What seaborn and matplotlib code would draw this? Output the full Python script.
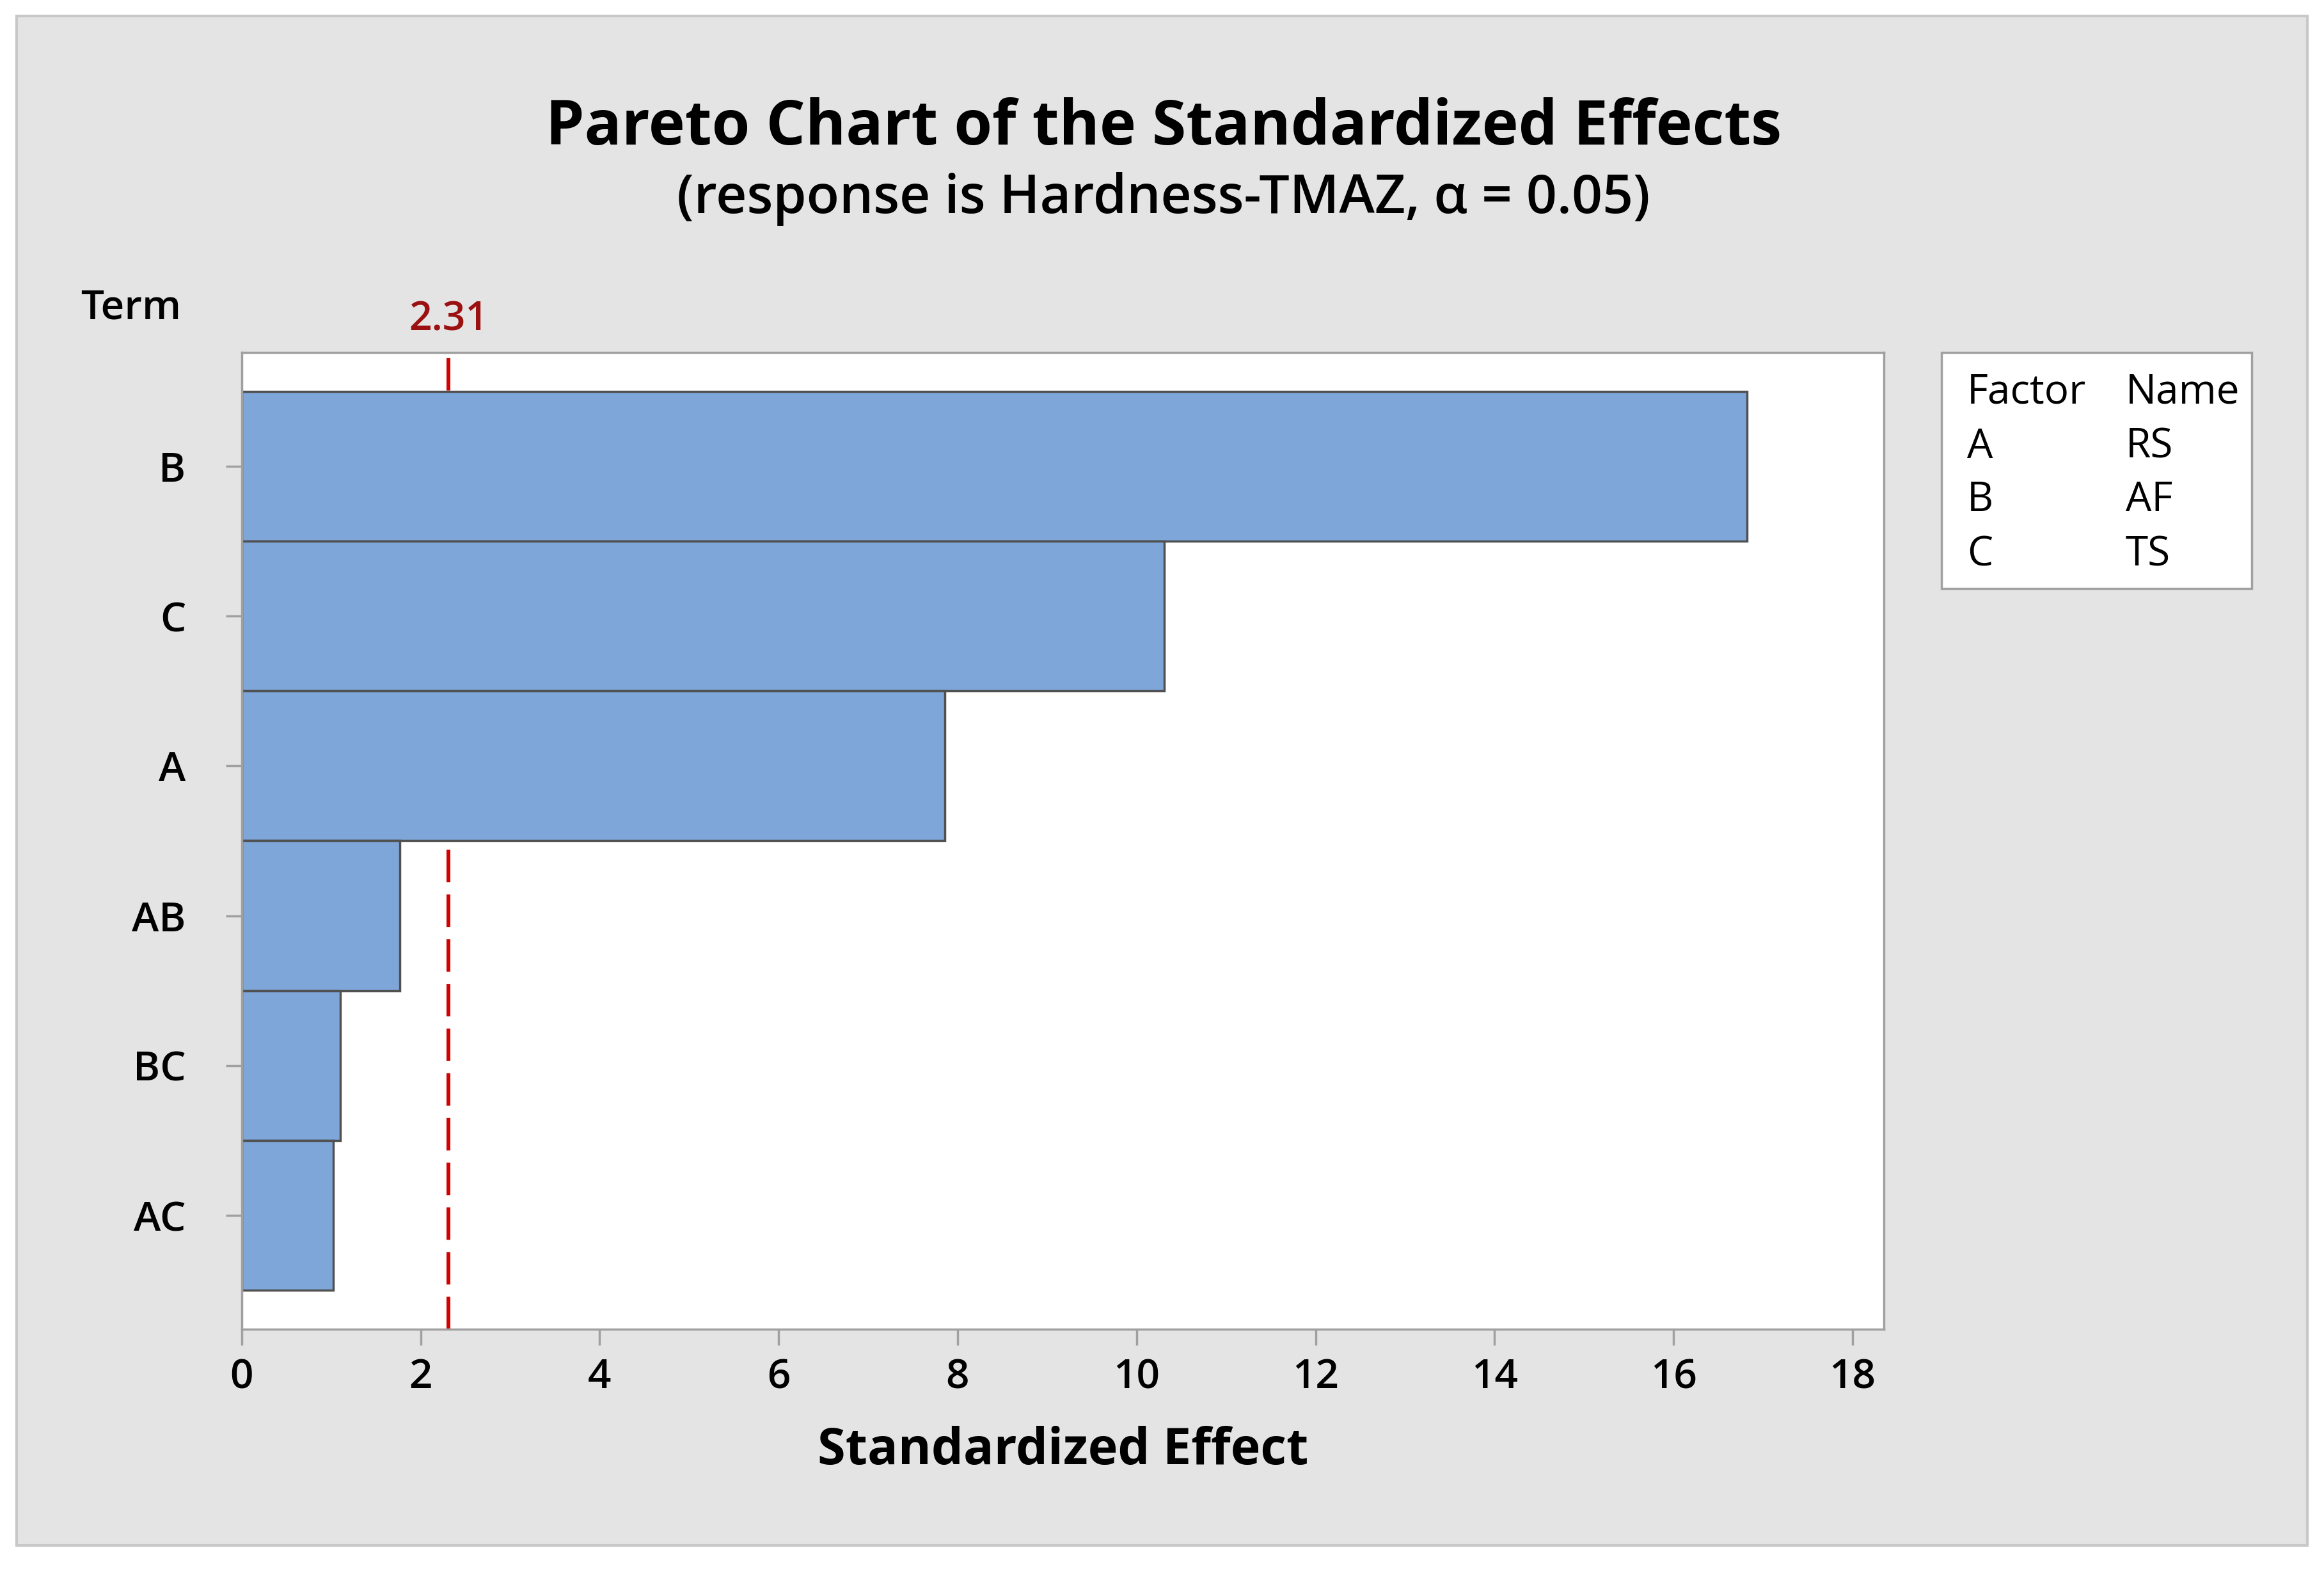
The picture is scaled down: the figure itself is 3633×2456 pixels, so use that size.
import matplotlib
matplotlib.use("Agg")
import matplotlib.pyplot as plt
import seaborn as sns
from matplotlib.patches import Rectangle
from matplotlib.transforms import blended_transform_factory

# --- Veri ---
terms = ["B", "C", "A", "AB", "BC", "AC"]
effects = [16.82, 10.31, 7.86, 1.77, 1.10, 1.02]
critical = 2.31
factors = ["A", "B", "C"]
names = ["RS", "AF", "TS"]
x_ticks = [0, 2, 4, 6, 8, 10, 12, 14, 16, 18]

sns.set_style("white")
plt.rcParams["font.family"] = ["Open Sans", "DejaVu Sans"]
plt.rcParams["text.color"] = "black"

fig = plt.figure(figsize=(36.33, 24.56), dpi=100)
fig.patch.set_facecolor("white")

# gri panel
fig.patches.append(Rectangle((0.0072, 0.0163), 0.9857, 0.9735, transform=fig.transFigure,
                             facecolor="#E4E4E4", edgecolor="#C8C8C8", linewidth=3, zorder=-10))

ax = fig.add_axes([0.1040, 0.1539, 0.7066, 0.6218])
ax.set_facecolor("white")

sns.barplot(x=effects, y=terms, orient="h", width=1.0, color="#7EA6D8",
            edgecolor="#505050", linewidth=2.5, saturation=1, ax=ax, zorder=2)

ax.axvline(critical, color="#D40000", linewidth=4.3, dashes=(8.5, 3.2), zorder=1)
trans = blended_transform_factory(ax.transData, ax.transAxes)
ax.text(critical, 1.033, f"{critical:.2f}", transform=trans, ha="center", va="center",
        fontsize=45, fontweight="semibold", color="#9B1010")

ax.set_xlim(0, 18.35)
ax.set_ylim(5.76, -0.76)
ax.set_xticks(x_ticks)
ax.set_xticklabels([str(t) for t in x_ticks])

for s in ax.spines.values():
    s.set_visible(True)
    s.set_color("#A0A0A0")
    s.set_linewidth(2.5)

ax.tick_params(axis="both", which="major", length=18, width=2.5, color="#A0A0A0",
               labelsize=46, labelcolor="black", bottom=True, left=True)
ax.tick_params(axis="y", pad=45)
ax.tick_params(axis="x", pad=14)
for lab in ax.get_xticklabels() + ax.get_yticklabels():
    lab.set_fontweight("semibold")

ax.set_ylabel("")
ax.set_xlabel("Standardized Effect", fontsize=57, fontweight="bold", va="center", color="black")
ax.xaxis.set_label_coords(0.5, -0.1245)

fig.text(0.0564, 0.8037, "Term", fontsize=46, fontweight="semibold", ha="center", va="center")

fig.text(0.5006, 0.9185, "Pareto Chart of the Standardized Effects", fontsize=69.5,
         fontweight="bold", ha="center", va="center")
fig.text(0.5006, 0.8735, "(response is Hardness-TMAZ, \u03b1 = 0.05)", fontsize=60.5,
         fontweight="semibold", ha="center", va="center")

# legend kutusu
fig.patches.append(Rectangle((0.8354, 0.6254), 0.1335, 0.1502, transform=fig.transFigure,
                             facecolor="white", edgecolor="#A0A0A0", linewidth=2.5))
rows_y = [0.7504, 0.7155, 0.6816, 0.6466]
fig.text(0.8464, rows_y[0], "Factor", fontsize=46, ha="left", va="center")
fig.text(0.9146, rows_y[0], "Name", fontsize=46, ha="left", va="center")
for f, n, y in zip(factors, names, rows_y[1:]):
    fig.text(0.8464, y, f, fontsize=46, ha="left", va="center")
    fig.text(0.9146, y, n, fontsize=46, ha="left", va="center")

fig.savefig("out.png", dpi=100)
